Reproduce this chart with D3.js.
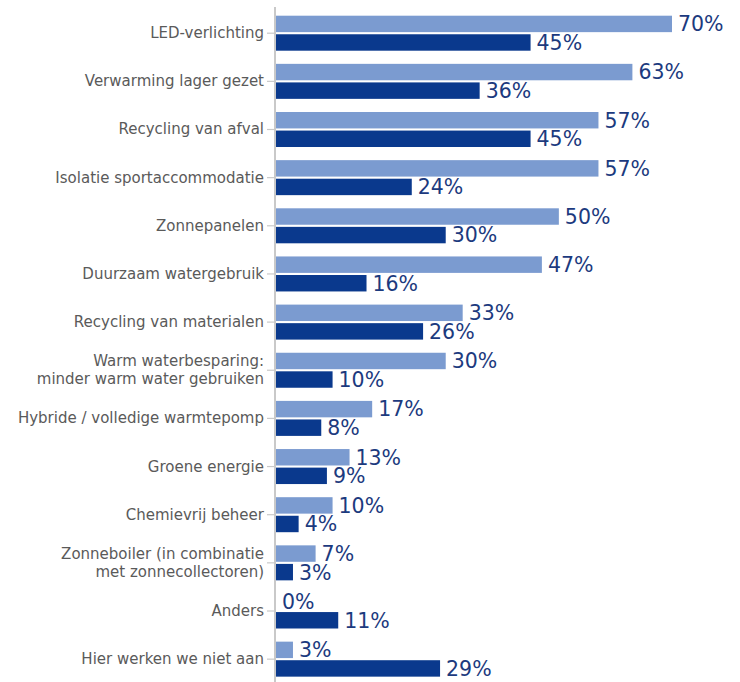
<!DOCTYPE html>
<html><head><meta charset="utf-8">
<script src="https://cdn.jsdelivr.net/npm/d3@7"></script>
<style>body{margin:0;background:#fff}svg{display:block}</style>
</head><body>
<script>
const categories = [
  ["LED-verlichting"],
  ["Verwarming lager gezet"],
  ["Recycling van afval"],
  ["Isolatie sportaccommodatie"],
  ["Zonnepanelen"],
  ["Duurzaam watergebruik"],
  ["Recycling van materialen"],
  ["Warm waterbesparing:", "minder warm water gebruiken"],
  ["Hybride / volledige warmtepomp"],
  ["Groene energie"],
  ["Chemievrij beheer"],
  ["Zonneboiler (in combinatie", "met zonnecollectoren)"],
  ["Anders"],
  ["Hier werken we niet aan"]
];
const seriesNames = ["light", "dark"];
const lightValues = [70, 63, 57, 57, 50, 47, 33, 30, 17, 13, 10, 7, 0, 3];
const darkValues  = [45, 36, 45, 24, 30, 16, 26, 10, 8, 9, 4, 3, 11, 29];
const colors = {light: "#7b9bd0", dark: "#0a398d"};

const W = 740, H = 682;
const svg = d3.select("body").append("svg").attr("width", W).attr("height", H);

const keys = categories.map(c => c.join(" "));
const x = d3.scaleLinear().domain([0, 70]).range([276, 672]);
const y = d3.scaleBand().domain(keys).range([9.1, 9.1 + 14 * 48.15]).padding(0);
const inner = d3.scaleBand().domain(seriesNames).range([6.6, 41.6]).paddingInner(4 / 35);

const rows = keys.map((k, i) => ({key: k, lines: categories[i], light: lightValues[i], dark: darkValues[i]}));

// axis line
svg.append("line").attr("x1", 275).attr("x2", 275).attr("y1", 7).attr("y2", H)
  .attr("stroke", "#c9c9c9").attr("stroke-width", 2);

const g = svg.selectAll("g.row").data(rows).join("g").attr("class", "row")
  .attr("transform", d => `translate(0,${y(d.key)})`);

const tickY = inner("light") + 17.5;
g.append("line").attr("x1", 267).attr("x2", 275).attr("y1", tickY).attr("y2", tickY)
  .attr("stroke", "#c9c9c9").attr("stroke-width", 1.2);

g.append("text").attr("text-anchor", "end").attr("font-family", "Verdana, 'DejaVu Sans', sans-serif")
  .attr("font-size", 15).attr("fill", "#5a5a5a")
  .each(function(d) {
    const t = d3.select(this);
    const n = d.lines.length;
    d.lines.forEach((ln, j) => {
      t.append("tspan").attr("x", 264).attr("y", tickY + 5 + (j - (n - 1) / 2) * 17.5).text(ln);
    });
  });

seriesNames.forEach(s => {
  g.append("rect").attr("x", x(0)).attr("y", inner(s))
    .attr("width", d => x(d[s]) - x(0)).attr("height", inner.bandwidth())
    .attr("fill", colors[s]);
  g.append("text").attr("x", d => x(d[s]) + 6).attr("y", inner(s) + inner.bandwidth() / 2)
    .attr("dy", "0.36em").attr("font-family", "Verdana, 'DejaVu Sans', sans-serif")
    .attr("font-size", 20.5).attr("fill", "#1c3a7e")
    .text(d => d[s] + "%");
});
</script>
</body></html>
